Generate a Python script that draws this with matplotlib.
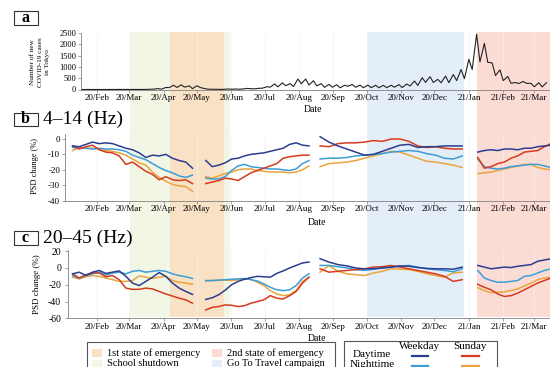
import matplotlib
matplotlib.use('Agg')
import matplotlib.pyplot as plt
import matplotlib.dates as mdates
from matplotlib.patches import Rectangle
from matplotlib.lines import Line2D
import pandas as pd

plt.rcParams['font.family'] = ['Liberation Serif', 'DejaVu Serif']
plt.rcParams['axes.unicode_minus'] = False

# daily new cases in Tokyo, sampled on Fridays (weekly highs) and Mondays (weekly lows)
cases_fri = [0, 1, 1, 0, 2, 3, 3, 3, 4, 11, 40, 89, 189, 206, 161, 165, 39, 9, 3, 22,
             20, 25, 35, 54, 124, 243, 293, 260, 463, 462, 389, 258, 226, 211, 187, 220,
             195, 196, 187, 184, 186, 215, 242, 374, 522, 570, 449, 595, 664, 884, 1337,
             2447, 2044, 1175, 868, 577, 307, 353, 270, 301, 304]
cases_mon = [0, 0, 0, 0, 1, 2, 1, 2, 2, 16, 13, 83, 91, 102, 39, 87, 15, 10, 8, 13,
             13, 48, 29, 58, 102, 119, 168, 131, 258, 197, 161, 95, 100, 77, 146, 98,
             78, 84, 78, 79, 102, 87, 157, 180, 314, 311, 299, 305, 392, 481, 884, 1219,
             1204, 618, 393, 276, 266, 272, 121, 116]

# measurement segments (holiday gaps in between): start, end, number of samples
segments = [('2020-01-10', '2020-04-27', 19),
            ('2020-05-09', '2020-08-10', 17),
            ('2020-08-20', '2020-12-26', 17),
            ('2021-01-09', '2021-03-16', 12)]

# PSD change (%) 4-14 Hz
b_day_weekday = [
    [-4.5, -5, -3.5, -2, -3, -2.5, -3, -4.5, -6, -7, -9, -12, -10.5, -11, -10, -12.5, -14, -15, -19],
    [-14, -18, -17, -15.5, -13, -12.5, -11, -10, -9.5, -9, -8, -7, -6, -3.5, -2.5, -4, -4.5],
    [1.5, -2, -4.5, -6.5, -8.5, -10.5, -10, -8, -6, -4, -3.5, -5.5, -5, -5, -4.5, -4.5, -4.5],
    [-8.5, -7.5, -7, -7.5, -6.5, -6.5, -7, -6, -6, -5, -4.5, -4]]
b_day_sunday = [
    [-4.5, -6.5, -5, -4, -7, -8.5, -9, -11, -16.5, -15, -18, -21, -23, -26.5, -24.5, -26.5, -27, -26.5, -29],
    [-29, -28, -27, -25.5, -26, -27, -24.5, -22, -20.5, -19, -17.5, -16, -12.5, -11.5, -11, -10.5, -10.5],
    [-4.5, -5, -3, -2.5, -2.5, -2, -1, -1.5, 0, 0, -1.5, -4.5, -5.5, -5, -6, -6.5, -6.5],
    [-12, -19, -18, -16, -15, -12.5, -11, -8.5, -8, -7.5, -5, -3]]
b_night_weekday = [
    [-5.5, -6, -6, -6.5, -6, -6.5, -6.5, -7, -8, -10.5, -12, -13.5, -16, -18.5, -20.5, -22, -24, -25, -23.5],
    [-25.5, -26, -26, -24.5, -20.5, -17.5, -16.5, -18, -18.5, -19, -19.5, -19.5, -20, -20.5, -19.5, -16, -14],
    [-13, -12.5, -12.5, -12, -11, -10.5, -10, -9.5, -8.5, -8, -7.5, -8, -9.5, -10.5, -12.5, -13, -11],
    [-13, -18, -19, -19.5, -19, -18, -17.5, -17, -16.5, -16.5, -17.5, -18.5]]
b_night_sunday = [
    [-7.5, -5.5, -6, -6, -6.5, -7.5, -8, -9, -10.5, -13, -15.5, -17, -21.5, -25, -27.5, -29.5, -30.5, -31, -34],
    [-24.5, -25.5, -24, -22.5, -21.5, -20, -19.5, -19.5, -20.5, -21, -21.5, -21.5, -21.5, -22, -21.5, -20, -17.5],
    [-18, -16, -15.5, -15, -14, -12.5, -11, -9.5, -8, -8.5, -10.5, -12.5, -14.5, -15, -16, -17, -18.5],
    [-22.5, -22, -21.5, -20.5, -19.5, -18.5, -17.5, -16.5, -16.5, -18.5, -19.5, -20]]

# PSD change (%) 20-45 Hz
c_day_weekday = [
    [-7, -5, -9, -5, -3, -6.5, -5, -3.5, -10, -18, -21, -16, -11, -5.5, -10, -18, -24, -28, -31.5],
    [-37.5, -35.5, -32, -26.5, -20, -16, -13.5, -11.5, -10, -10.5, -11, -6.5, -3.5, 0, 3, 6, 7],
    [11, 7, 4, 2.5, 0, -1, -1, 0, 1, 2.5, 2, 0.5, -0.5, -1, -1, -1.5, 1],
    [3, 1, -1, 0, 1, 0.5, 2, 3, 4, 8, 9.5, 11]]
c_day_sunday = [
    [-7, -12, -8, -6, -6, -10.5, -9, -14, -24, -25.5, -25.5, -24, -25, -28, -31, -33.5, -36, -38, -42],
    [-50, -47, -46, -44, -44.5, -46, -45, -42, -40, -38, -33, -36, -37, -33, -28, -18, -11],
    [-1, -5, -4, -3, -2, -1, 1, 1.5, 3, 1, -1, -3, -5, -7, -10, -16, -14],
    [-19.5, -23, -26, -31, -34, -33, -30, -26, -22, -18, -15, -12]]
c_night_weekday = [
    [-9, -12.5, -9, -7, -5, -8.5, -6, -5, -7, -4, -3, -5, -4, -3, -4, -7, -9, -10.5, -12.5],
    [-15, -15, -14.5, -14, -13.5, -13, -12.5, -14, -15.5, -19, -23, -26, -27, -26, -21, -12, -7],
    [3, 3, 1.5, 0, -2, -3, -1.5, 0, 1, 2, 3, 1, -1, -2, -3, -4.5, -1],
    [-3, -12, -15, -17, -17, -16, -15, -10, -9, -6, -3, -1]]
c_night_sunday = [
    [-11, -13, -10.5, -9, -10, -12, -14, -16, -16, -15, -9.5, -11, -12.5, -11, -10, -15, -17, -18, -19.5],
    [-15.5, -15, -14.5, -14.5, -15, -14, -13, -13.5, -17, -21, -27, -31, -33, -32, -27, -16, -11],
    [-5, 3, -4, -7, -8, -9, -6, -4, -1, -1.5, -2, -4, -7, -9, -11, -6, -5],
    [-23.5, -27, -29.5, -29, -28.5, -27, -25, -21.5, -18, -14, -12, -11]]

# shaded periods: label, start, end, colour
periods = [('School shutdown', '2020-03-02', '2020-05-31', '#f2f6e4'),
           ('1st state of emergency', '2020-04-07', '2020-05-25', '#f8e1c5'),
           ('Go To Travel campaign', '2020-10-01', '2020-12-28', '#e4eef8'),
           ('2nd state of emergency', '2021-01-08', '2021-03-21', '#fbdcd5')]

C_DW, C_DS, C_NW, C_NS = '#2b3d8f', '#d63b1e', '#3d9dd6', '#eba43c'

W, H = 550, 367
fig = plt.figure(figsize=(W / 100, H / 100), dpi=100)

FEB1 = mdates.date2num(pd.Timestamp('2020-02-01'))


def px_to_date(px):
    return FEB1 + (px - 97) / 1.11


def add_axes(left, right, top, bottom):
    ax = fig.add_axes([left / W, 1 - bottom / H, (right - left) / W, (bottom - top) / H])
    ax.set_xlim(px_to_date(left), px_to_date(right))
    return ax


def style(ax, fs):
    ax.set_facecolor('none')
    for s in ['top', 'right']:
        ax.spines[s].set_visible(False)
    for s in ['left', 'bottom']:
        ax.spines[s].set_color('#808080')
        ax.spines[s].set_linewidth(0.6)
    ax.xaxis.set_major_locator(mdates.MonthLocator())
    ax.xaxis.set_major_formatter(mdates.DateFormatter('%y/%b'))
    ax.tick_params(axis='x', length=2, width=0.5, color='#808080', labelsize=6.5, pad=1.5)
    ax.tick_params(axis='y', length=2, width=0.5, color='#808080', labelsize=fs, pad=1.5)
    ax.grid(axis='x', color='#f1f1f1', lw=0.5)
    ax.set_axisbelow(True)


# background shading shared by all three panels
bg = add_axes(0, 560, 32, 317)
bg.axis('off')
for name, start, end, color in periods:
    bg.axvspan(mdates.date2num(pd.Timestamp(start)), mdates.date2num(pd.Timestamp(end)),
               color=color, lw=0)

# (a) new cases
ax_a = add_axes(81, 560, 33, 89.5)
style(ax_a, 6)
fri = pd.Series(cases_fri, index=pd.date_range('2020-01-17', periods=len(cases_fri), freq='W-FRI'))
mon = pd.Series(cases_mon, index=pd.date_range('2020-01-20', periods=len(cases_mon), freq='W-MON'))
cases = pd.concat([fri, mon]).sort_index()
ax_a.plot(mdates.date2num(cases.index), cases.values, color='#222222', lw=0.8)
ax_a.set_ylim(0, 2500)
ax_a.set_yticks([0, 500, 1000, 1500, 2000, 2500])
ax_a.set_xlabel('Date', fontsize=7, labelpad=0)
ax_a.xaxis.set_label_coords((313 - 81) / (560 - 81), -0.27)


def draw_psd(ax, series):
    for values, color in series:
        for (start, end, n), seg in zip(segments, values):
            d = pd.date_range(start, end, periods=n)
            ax.plot(mdates.date2num(d), seg, color=color, lw=1.1, solid_joinstyle='round')


# (b) 4-14 Hz
ax_b = add_axes(65, 560, 134.4, 200.5)
style(ax_b, 6.5)
draw_psd(ax_b, [(b_night_sunday, C_NS), (b_night_weekday, C_NW),
                (b_day_sunday, C_DS), (b_day_weekday, C_DW)])
ax_b.set_ylim(-40, 3)
ax_b.set_yticks([0, -10, -20, -30, -40])
ax_b.set_xlabel('Date', fontsize=7)
ax_b.xaxis.set_label_coords((317 - 65) / (560 - 65), -0.26)

# (c) 20-45 Hz
ax_c = add_axes(68, 560, 249.5, 318.3)
style(ax_c, 7)
ax_c.tick_params(axis='y', pad=3)
draw_psd(ax_c, [(c_night_sunday, C_NS), (c_night_weekday, C_NW),
                (c_day_sunday, C_DS), (c_day_weekday, C_DW)])
ax_c.set_ylim(-60, 22)
ax_c.set_yticks([20, 0, -20, -40, -60])
ax_c.set_xlabel('Date', fontsize=7)
ax_c.xaxis.set_label_coords((317 - 68) / (560 - 68), -0.23)

# y labels
fig.text(40 / W, 1 - 62 / H, 'Number of new\nCOVID-19 cases\nin Tokyo', rotation=90,
         ha='center', va='center', fontsize=5.2, linespacing=1.6)
fig.text(35 / W, 1 - 166 / H, 'PSD change (%)', rotation=90, ha='center', va='center', fontsize=6)
fig.text(37 / W, 1 - 284 / H, 'PSD change (%)', rotation=90, ha='center', va='center', fontsize=6.5)

# panel letters in boxes and band headings
for letter, top, bottom, heading in [('a', 10.5, 25, None), ('b', 112.5, 125.5, '4–14 (Hz)'),
                                     ('c', 231, 245, '20–45 (Hz)')]:
    fig.add_artist(Rectangle((13.5 / W, 1 - bottom / H), 24 / W, (bottom - top) / H,
                             transform=fig.transFigure, fill=False, ec='#333333', lw=0.8))
    fig.text(25.5 / W, 1 - (top + bottom) / 2 / H, letter, ha='center', va='center',
             fontsize=11.5, fontweight='bold')
    if heading:
        fig.text(43 / W, 1 - (top + bottom) / 2 / H, heading, ha='left', va='center', fontsize=14)

# legend for shaded periods
fig.add_artist(Rectangle((87 / W, 1 - 380 / H), 248 / W, 38 / H, transform=fig.transFigure,
                         fill=False, ec='#555555', lw=0.8))
shade = {name: color for name, _, _, color in periods}
for name, x, y in [('1st state of emergency', 92, 353), ('School shutdown', 92, 363.5),
                   ('2nd state of emergency', 212, 353), ('Go To Travel campaign', 212, 363.5)]:
    fig.add_artist(Rectangle((x / W, 1 - (y + 4) / H), 10 / W, 8 / H, transform=fig.transFigure,
                             fc=shade[name], ec='none'))
    fig.text((x + 15) / W, 1 - y / H, name, ha='left', va='center', fontsize=7.5)

# legend for the four series
fig.add_artist(Rectangle((344 / W, 1 - 380 / H), 153 / W, 39 / H, transform=fig.transFigure,
                         fill=False, ec='#555555', lw=0.8))
fig.text(420 / W, 1 - 346.5 / H, 'Weekday', ha='center', va='center', fontsize=8)
fig.text(470 / W, 1 - 346.5 / H, 'Sunday', ha='center', va='center', fontsize=8)
for row, y, cw, cs in [('Daytime', 355.5, C_DW, C_DS), ('Nighttime', 365.5, C_NW, C_NS)]:
    fig.text(372 / W, 1 - (y - 1) / H, row, ha='center', va='center', fontsize=8)
    for x0, x1, c in [(412, 428, cw), (462, 479, cs)]:
        fig.add_artist(Line2D([x0 / W, x1 / W], [1 - y / H, 1 - y / H],
                              transform=fig.transFigure, color=c, lw=1.6))

fig.savefig('out.png', dpi=100)
